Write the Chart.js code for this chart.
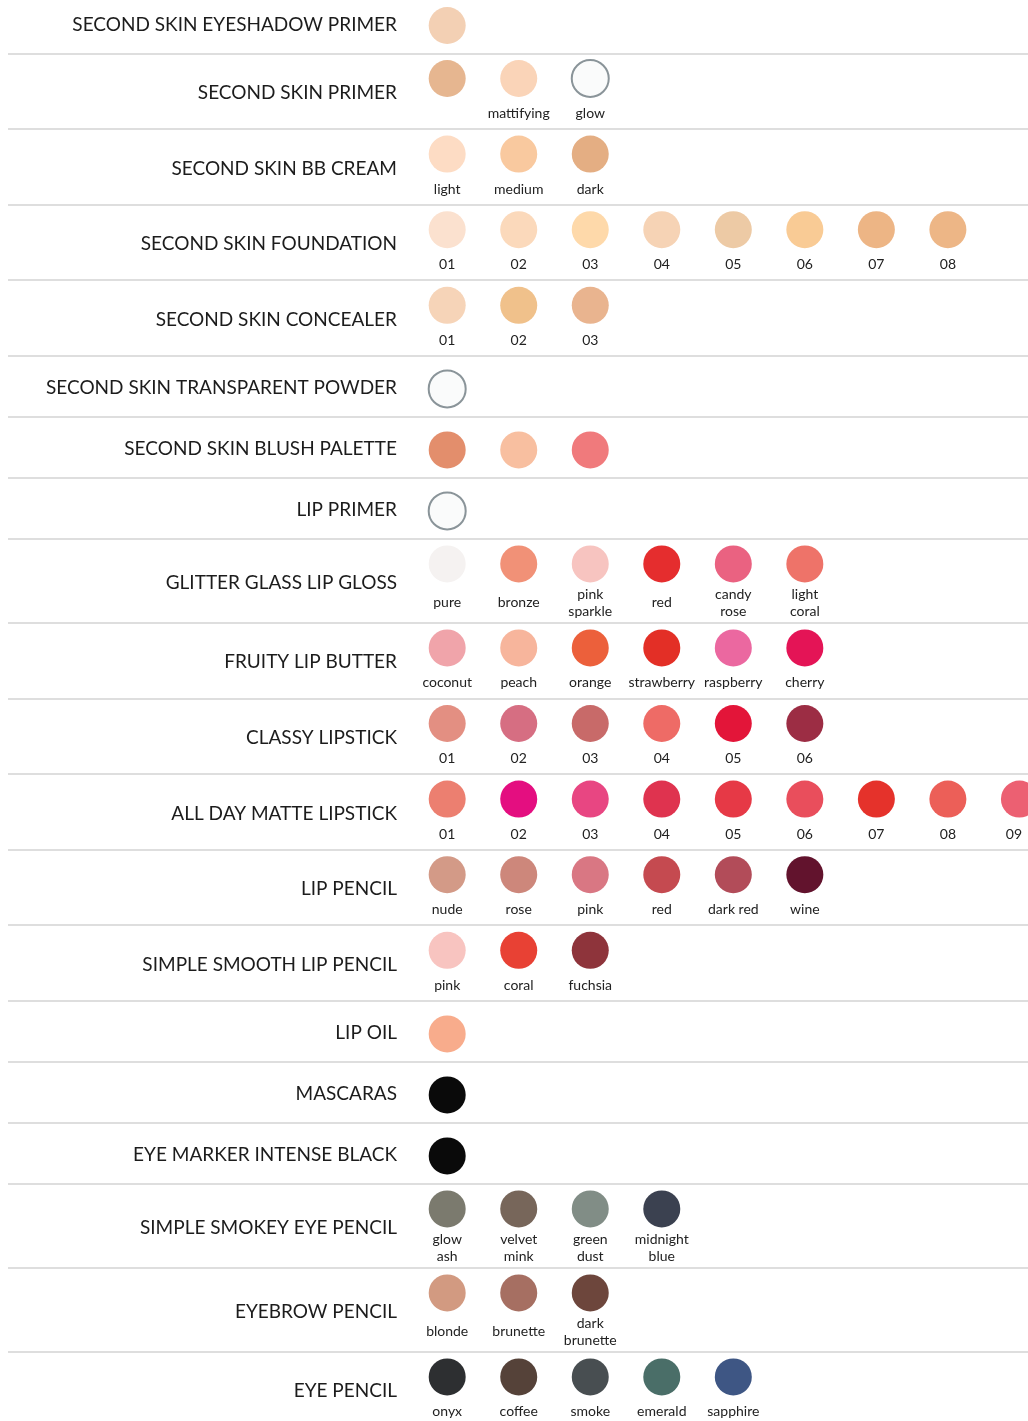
<!DOCTYPE html>
<html>
<head>
<meta charset="utf-8">
<script src="https://cdn.jsdelivr.net/npm/chart.js@4.4.1/dist/chart.umd.min.js"></script>
<style>
  html, body { margin: 0; padding: 0; background: #fff; }
  #wrap { width: 1028px; height: 1421px; }
</style>
</head>
<body>
<div id="wrap"><canvas id="swatches" width="1028" height="1421"></canvas></div>
<script>
const products = [
    'SECOND SKIN EYESHADOW PRIMER',
    'SECOND SKIN PRIMER',
    'SECOND SKIN BB CREAM',
    'SECOND SKIN FOUNDATION',
    'SECOND SKIN CONCEALER',
    'SECOND SKIN TRANSPARENT POWDER',
    'SECOND SKIN BLUSH PALETTE',
    'LIP PRIMER',
    'GLITTER GLASS LIP GLOSS',
    'FRUITY LIP BUTTER',
    'CLASSY LIPSTICK',
    'ALL DAY MATTE LIPSTICK',
    'LIP PENCIL',
    'SIMPLE SMOOTH LIP PENCIL',
    'LIP OIL',
    'MASCARAS',
    'EYE MARKER INTENSE BLACK',
    'SIMPLE SMOKEY EYE PENCIL',
    'EYEBROW PENCIL',
    'EYE PENCIL'
];

// "clear" = transparent product, drawn as an outlined circle
const shadeColors = [
    ['#f3d0b4'],
    ['#e6b690', '#fad4b8', 'clear'],
    ['#fddcc4', '#f9c99f', '#e4ae83'],
    ['#fbe1cf', '#fbd9bb', '#fed9aa', '#f6d3b5', '#edcaa5', '#f9cb95', '#edb585', '#edb686'],
    ['#f6d4b8', '#f0c18b', '#e9b48f'],
    ['clear'],
    ['#e38e6c', '#f8bfa0', '#f07a7c'],
    ['clear'],
    ['#f5f2f1', '#f19177', '#f7c4c0', '#e52d2e', '#ea6281', '#ee7369'],
    ['#f0a4aa', '#f7b59c', '#ec603b', '#e32f26', '#eb68a0', '#e41456'],
    ['#e38f82', '#d66e82', '#c86a69', '#ee6b66', '#e31539', '#9c2d44'],
    ['#ec7f70', '#e40e80', '#e84682', '#df334f', '#e63946', '#e94e5c', '#e5322b', '#ec5f58', '#ec6072'],
    ['#d39a87', '#cd877b', '#d97783', '#c54a50', '#b24c59', '#62132d'],
    ['#f8c4c0', '#e84134', '#8e343b'],
    ['#f8ac8c'],
    ['#0a0a0a'],
    ['#0a0a0a'],
    ['#7b7a6e', '#77665a', '#818d86', '#3b4150'],
    ['#d29a81', '#a66f62', '#6d463c'],
    ['#2d2f31', '#554239', '#484e51', '#4a6e68', '#3e5684']
];

const shadeNames = [
    [''],
    ['', 'mattifying', 'glow'],
    ['light', 'medium', 'dark'],
    ['01', '02', '03', '04', '05', '06', '07', '08'],
    ['01', '02', '03'],
    [''],
    ['', '', ''],
    [''],
    ['pure', 'bronze', 'pink\nsparkle', 'red', 'candy\nrose', 'light\ncoral'],
    ['coconut', 'peach', 'orange', 'strawberry', 'raspberry', 'cherry'],
    ['01', '02', '03', '04', '05', '06'],
    ['01', '02', '03', '04', '05', '06', '07', '08', '09'],
    ['nude', 'rose', 'pink', 'red', 'dark red', 'wine'],
    ['pink', 'coral', 'fuchsia'],
    [''],
    [''],
    [''],
    ['glow\nash', 'velvet\nmink', 'green\ndust', 'midnight\nblue'],
    ['blonde', 'brunette', 'dark\nbrunette'],
    ['onyx', 'coffee', 'smoke', 'emerald', 'sapphire']
];

// row height depends on how many text lines sit under the swatches
const rowHeights = {0: 61, 1: 75.6, 2: 84};
const topCut = 7.5;

var rowTop = [], rowMid = [], swatchY = [], lineCount = [];
var acc = 0;
products.forEach(function (p, i) {
    var lines = 0;
    shadeNames[i].forEach(function (n) {
        if (n) lines = Math.max(lines, n.split('\n').length);
    });
    lineCount.push(lines);
    rowTop.push(acc);
    rowMid.push(acc + rowHeights[lines] / 2 + 1.5);
    swatchY.push(acc + (lines ? 25 : 33));
    acc += rowHeights[lines];
});

var points = [], bg = [], border = [], borderW = [];
shadeColors.forEach(function (row, i) {
    row.forEach(function (c, j) {
        points.push({x: j, y: swatchY[i], name: shadeNames[i][j], lines: lineCount[i]});
        if (c === 'clear') {
            bg.push('#fafbfb');
            border.push('#8a9499');
            borderW.push(2);
        } else {
            bg.push(c);
            border.push(c);
            borderW.push(0);
        }
    });
});

const swatchText = {
    id: 'swatchText',
    beforeDatasetsDraw(chart) {
        const ctx = chart.ctx;
        const yScale = chart.scales.y;
        ctx.save();
        ctx.strokeStyle = '#dedede';
        ctx.lineWidth = 2;
        rowTop.forEach(function (t, i) {
            if (i === 0) return;
            const py = Math.round(yScale.getPixelForValue(t));
            ctx.beginPath();
            ctx.moveTo(8, py);
            ctx.lineTo(chart.width, py);
            ctx.stroke();
        });
        ctx.restore();
    },
    afterDatasetsDraw(chart) {
        const ctx = chart.ctx;
        const meta = chart.getDatasetMeta(0);
        ctx.save();
        ctx.font = '14px Lato';
        ctx.fillStyle = '#222222';
        ctx.textAlign = 'center';
        ctx.textBaseline = 'middle';
        meta.data.forEach(function (pt, k) {
            const d = points[k];
            if (!d.name) return;
            const parts = d.name.split('\n');
            const center = pt.y + (d.lines === 2 ? 39 : 35);
            const start = center - (parts.length - 1) * 17 / 2;
            parts.forEach(function (s, m) {
                // keep text inside the canvas for the last column
                const half = ctx.measureText(s).width / 2;
                const tx = Math.min(pt.x, chart.width - half - 6);
                ctx.fillText(s, tx, start + m * 17);
            });
        });
        ctx.restore();
    }
};

new Chart(document.getElementById('swatches'), {
    type: 'scatter',
    data: {
        datasets: [{
            data: points,
            pointBackgroundColor: bg,
            pointBorderColor: border,
            pointBorderWidth: borderW,
            pointRadius: 18.5,
            pointHoverRadius: 18.5,
            clip: false
        }]
    },
    options: {
        responsive: false,
        animation: false,
        layout: { padding: 0, autoPadding: false },
        plugins: {
            legend: { display: false },
            tooltip: { enabled: false }
        },
        scales: {
            x: {
                type: 'linear',
                display: false,
                min: -0.52,
                max: 8.12
            },
            y: {
                type: 'linear',
                reverse: true,
                min: topCut,
                max: topCut + 1421,
                grid: { display: false, drawTicks: false },
                border: { display: false },
                afterBuildTicks: function (axis) {
                    axis.ticks = rowMid.map(function (v) { return {value: v}; });
                },
                afterFit: function (axis) {
                    axis.width = 410;
                    axis.paddingTop = 0;
                    axis.paddingBottom = 0;
                },
                ticks: {
                    autoSkip: false,
                    padding: 13,
                    color: '#1c1c1c',
                    font: { family: 'Lato', size: 19 },
                    callback: function (value, index) {
                        return products[index];
                    }
                }
            }
        }
    },
    plugins: [swatchText]
});
</script>
</body>
</html>
